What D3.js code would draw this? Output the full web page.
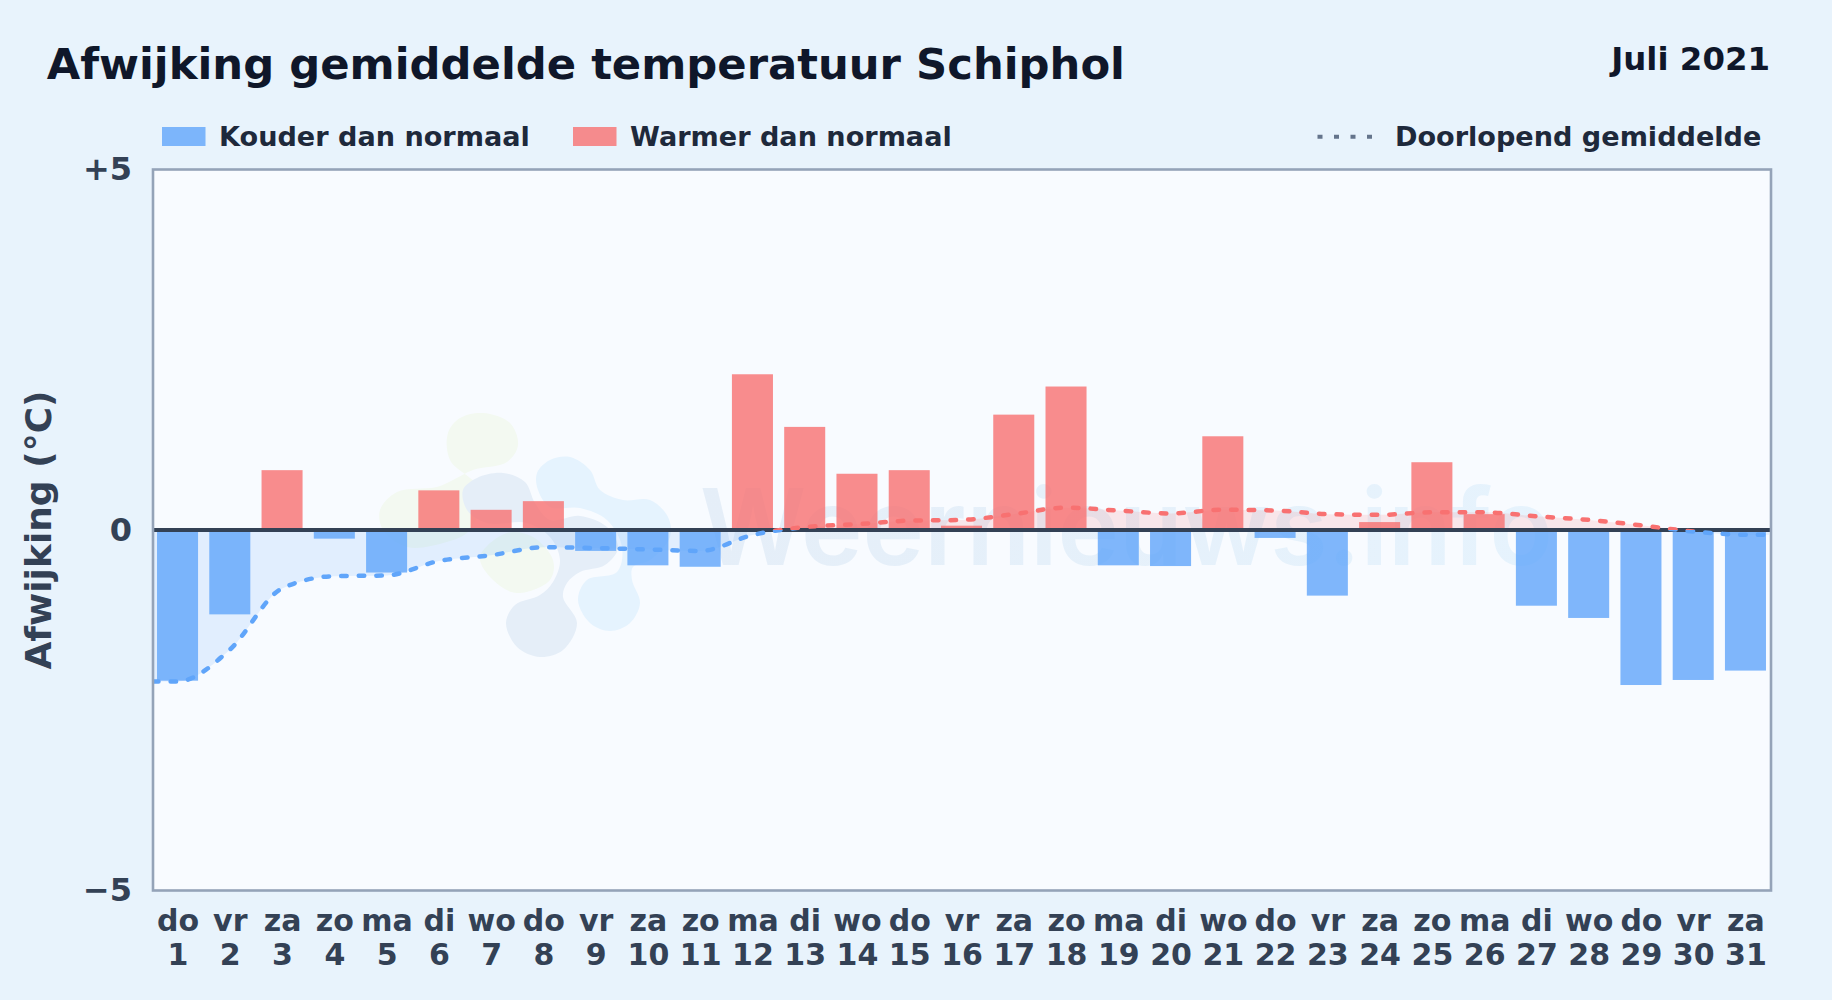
<!DOCTYPE html>
<html>
<head>
<meta charset="utf-8">
<title>Afwijking gemiddelde temperatuur Schiphol</title>
<script src="https://cdn.jsdelivr.net/npm/d3@7"></script>
<style>
html, body { margin: 0; padding: 0; background: #e8f3fc; }
svg { display: block; font-family: "DejaVu Sans", sans-serif; font-weight: bold; }
</style>
</head>
<body>
<svg></svg>
<script>
"use strict";

var weekdays = ["do", "vr", "za", "zo", "ma", "di", "wo", "do", "vr", "za", "zo", "ma", "di", "wo", "do", "vr",
    "za", "zo", "ma", "di", "wo", "do", "vr", "za", "zo", "ma", "di", "wo", "do", "vr", "za"];
var dayNumbers = [1, 2, 3, 4, 5, 6, 7, 8, 9, 10, 11, 12, 13, 14, 15, 16, 17, 18, 19, 20, 21, 22, 23, 24, 25, 26, 27, 28, 29, 30, 31];
var deviation = [-2.09, -1.17, 0.83, -0.12, -0.59, 0.55, 0.28, 0.40, -0.29, -0.49, -0.51, 2.16, 1.43, 0.78, 0.83, 0.06,
    1.60, 1.99, -0.49, -0.50, 1.30, -0.11, -0.91, 0.11, 0.94, 0.22, -1.05, -1.22, -2.15, -2.08, -1.95];
var runningMean = [-2.10, -1.66, -0.81, -0.64, -0.63, -0.43, -0.35, -0.24, -0.25, -0.27, -0.29, -0.07, 0.04, 0.08, 0.13, 0.14,
    0.22, 0.31, 0.27, 0.23, 0.28, 0.27, 0.22, 0.21, 0.245, 0.245, 0.19, 0.14, 0.065, -0.02, -0.065];
var yTicks = [-5, 0, 5];

var width = 1832,
    height = 1000;
var plotLeft = 153,
    plotRight = 1771,
    plotTop = 169.5,
    plotBottom = 890.5;

var fontStack = "'DejaVu Sans', sans-serif";
var blue = "#60a5fa",
    red = "#f87171",
    slate = "#334155",
    ink = "#0f172a",
    legendInk = "#1e293b";

var svg = d3.select("svg")
    .attr("width", width)
    .attr("height", height);

var x = d3.scaleBand()
    .domain(dayNumbers)
    .range([151.4, 1771.6])
    .paddingInner(0.215)
    .paddingOuter(0.1075);

var y = d3.scaleLinear()
    .domain([-5, 5])
    .range([plotBottom, plotTop]);

function center(day) {
    return x(day) + x.bandwidth() / 2;
}

var defs = svg.append("defs");

defs.append("clipPath").attr("id", "above")
    .append("rect")
    .attr("x", plotLeft).attr("y", plotTop)
    .attr("width", plotRight - plotLeft).attr("height", y(0) - plotTop);
defs.append("clipPath").attr("id", "below")
    .append("rect")
    .attr("x", plotLeft).attr("y", y(0))
    .attr("width", plotRight - plotLeft).attr("height", plotBottom - y(0));

var wmGradient = defs.append("linearGradient").attr("id", "wm");
wmGradient.append("stop").attr("offset", "0%").attr("stop-color", "#e5eef8");
wmGradient.append("stop").attr("offset", "100%").attr("stop-color", "#e6f3fd");

// Plot background
svg.append("rect")
    .attr("x", plotLeft).attr("y", plotTop)
    .attr("width", plotRight - plotLeft).attr("height", plotBottom - plotTop)
    .attr("fill", "#f8fbff");

// Watermark: logo outlines are given in pixels of the page
var logoBlobs = [
    { fill: "#f3f9f1", points: [[483, 413], [510, 423], [518, 445], [507, 462], [473, 470], [453, 480], [437, 487], [397, 492], [380, 510], [383, 530], [407, 547], [443, 543], [470, 530], [480, 490], [450, 460], [448, 433], [460, 418]] },
    { fill: "#f3f9f1", points: [[480, 557], [507, 533], [533, 537], [553, 560], [550, 580], [517, 593], [493, 580]] },
    { fill: "#e5eef8", points: [[463, 490], [477, 478], [503, 473], [525, 482], [535, 503], [550, 520], [580, 516], [607, 527], [618, 548], [605, 565], [580, 572], [567, 583], [563, 597], [577, 623], [563, 650], [540, 657], [517, 647], [506, 623], [515, 605], [540, 595], [553, 582], [560, 560], [550, 537], [527, 523], [487, 523], [467, 510]] },
    { fill: "#e5f3fe", points: [[537, 473], [550, 460], [570, 457], [590, 470], [600, 490], [623, 500], [650, 500], [668, 517], [670, 537], [650, 560], [633, 567], [632, 580], [640, 603], [630, 623], [610, 631], [590, 623], [578, 600], [587, 580], [617, 572], [622, 547], [607, 520], [580, 508], [550, 507], [538, 490]] }
];
var blobLine = d3.line().curve(d3.curveCatmullRomClosed.alpha(0.5));
svg.append("g").selectAll("path").data(logoBlobs).enter()
    .append("path")
    .attr("d", function (d) { return blobLine(d.points); })
    .attr("fill", function (d) { return d.fill; });

svg.append("text")
    .attr("x", 700)
    .attr("y", 565)
    .attr("textLength", 853)
    .attr("lengthAdjust", "spacingAndGlyphs")
    .style("font-family", "Inter, sans-serif")
    .style("font-weight", 600)
    .style("font-size", "106px")
    .attr("fill", "url(#wm)")
    .text("Weernieuws.info");

// Area between the running mean and zero, split at the zero line
var meanPoints = [{ x: plotLeft, v: runningMean[0] }]
    .concat(dayNumbers.map(function (d, i) { return { x: center(d), v: runningMean[i] }; }))
    .concat([{ x: plotRight - 2, v: runningMean[runningMean.length - 1] }]);

var meanArea = d3.area()
    .x(function (d) { return d.x; })
    .y0(y(0))
    .y1(function (d) { return y(d.v); })
    .curve(d3.curveMonotoneX);
var meanLine = d3.line()
    .x(function (d) { return d.x; })
    .y(function (d) { return y(d.v); })
    .curve(d3.curveMonotoneX);

svg.append("path").attr("d", meanArea(meanPoints))
    .attr("clip-path", "url(#below)")
    .attr("fill", blue).attr("fill-opacity", 0.15);
svg.append("path").attr("d", meanArea(meanPoints))
    .attr("clip-path", "url(#above)")
    .attr("fill", red).attr("fill-opacity", 0.15);

// Bars
svg.append("g").selectAll("rect").data(deviation).enter()
    .append("rect")
    .attr("x", function (d, i) { return x(dayNumbers[i]); })
    .attr("width", x.bandwidth())
    .attr("y", function (d) { return y(Math.max(d, 0)); })
    .attr("height", function (d) { return Math.abs(y(d) - y(0)); })
    .attr("fill", function (d) { return d < 0 ? blue : red; })
    .attr("fill-opacity", 0.8);

// Zero line
svg.append("line")
    .attr("x1", plotLeft).attr("x2", plotRight)
    .attr("y1", y(0)).attr("y2", y(0))
    .attr("stroke", slate).attr("stroke-width", 4);

// Running mean, dashed
[["below", blue], ["above", red]].forEach(function (part) {
    svg.append("g").attr("clip-path", "url(#" + part[0] + ")")
        .append("path")
        .attr("d", meanLine(meanPoints))
        .attr("fill", "none")
        .attr("stroke", part[1])
        .attr("stroke-width", 4.5)
        .attr("stroke-linecap", "round")
        .attr("stroke-dasharray", "5.5 12.1");
});

// Plot frame
svg.append("rect")
    .attr("x", plotLeft).attr("y", plotTop)
    .attr("width", plotRight - plotLeft).attr("height", plotBottom - plotTop)
    .attr("fill", "none")
    .attr("stroke", "#94a3b8")
    .attr("stroke-width", 2.6);

// Axes
var yAxis = svg.append("g")
    .attr("transform", "translate(" + plotLeft + ",0)")
    .call(d3.axisLeft(y)
        .tickValues(yTicks)
        .tickSize(0)
        .tickPadding(21)
        .tickFormat(function (d) { return d > 0 ? "+" + d : d < 0 ? "\u2212" + Math.abs(d) : "0"; }));
yAxis.select(".domain").remove();
yAxis.selectAll("text")
    .style("font-family", fontStack)
    .style("font-size", "32px")
    .attr("fill", slate);

var xAxis = svg.append("g")
    .attr("transform", "translate(0," + plotBottom + ")")
    .call(d3.axisBottom(x).tickSize(0).tickFormat(""));
xAxis.select(".domain").remove();
xAxis.selectAll("text").each(function (d, i) {
    var label = d3.select(this)
        .attr("y", null).attr("dy", null)
        .style("font-family", fontStack)
        .style("font-size", "30px")
        .attr("fill", slate);
    label.append("tspan").attr("x", 0.5).attr("y", 40.5).text(weekdays[i]);
    label.append("tspan").attr("x", 0.5).attr("y", 74.5).text(d);
});

svg.append("text")
    .attr("transform", "translate(51," + y(0) + ") rotate(-90)")
    .attr("text-anchor", "middle")
    .style("font-size", "36px")
    .attr("fill", slate)
    .text("Afwijking (\u00b0C)");

// Title
svg.append("text")
    .attr("x", 46.7).attr("y", 79)
    .style("font-size", "43.3px")
    .attr("fill", ink)
    .text("Afwijking gemiddelde temperatuur Schiphol");
svg.append("text")
    .attr("x", 1770).attr("y", 70)
    .attr("text-anchor", "end")
    .style("font-size", "32.4px")
    .attr("fill", ink)
    .text("Juli 2021");

// Legend
var legendItems = [
    { label: "Kouder dan normaal", color: blue, box: 162, text: 219 },
    { label: "Warmer dan normaal", color: red, box: 573, text: 630 }
];
legendItems.forEach(function (d) {
    svg.append("rect")
        .attr("x", d.box).attr("y", 127)
        .attr("width", 43.5).attr("height", 19)
        .attr("fill", d.color).attr("fill-opacity", 0.8);
    svg.append("text")
        .attr("x", d.text).attr("y", 146)
        .style("font-size", "27.1px")
        .attr("fill", legendInk)
        .text(d.label);
});
svg.append("line")
    .attr("x1", 1317.5).attr("x2", 1373)
    .attr("y1", 136.7).attr("y2", 136.7)
    .attr("stroke", "#64748b")
    .attr("stroke-width", 4)
    .attr("stroke-dasharray", "5 11.5");
svg.append("text")
    .attr("x", 1395).attr("y", 146)
    .style("font-size", "27.1px")
    .attr("fill", legendInk)
    .text("Doorlopend gemiddelde");
</script>
</body>
</html>
